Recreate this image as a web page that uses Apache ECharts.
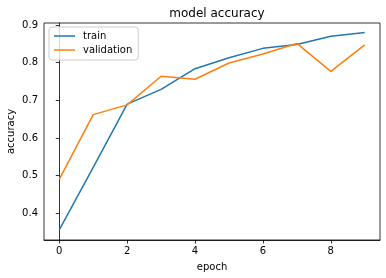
<!DOCTYPE html>
<html><head><meta charset="utf-8">
<script src="https://cdn.jsdelivr.net/npm/echarts@6/dist/echarts.min.js"></script>
<style>html,body{margin:0;padding:0;background:#fff}#c{width:386px;height:278px}</style>
</head><body><div id="c"></div>
<script>
const epochs = [0,1,2,3,4,5,6,7,8,9];
const train = [0.356,0.522,0.690,0.729,0.784,0.813,0.838,0.848,0.870,0.880];
const validation = [0.490,0.662,0.688,0.764,0.756,0.799,0.823,0.851,0.777,0.847];
const xTicks = [0,2,4,6,8];
const yTicks = [0.4,0.5,0.6,0.7,0.8,0.9];
const F = 'DejaVu Sans';
const chart = echarts.init(document.getElementById('c'), null, {renderer:'canvas'});
chart.setOption({
  animation:false,
  title:{text:'model accuracy', left:212, top:3, textAlign:'center',
    textStyle:{fontFamily:F, fontSize:12, fontWeight:'normal', color:'#000'}},
  grid:{left:44, top:23, right:6, bottom:38, show:true, borderColor:'#000', borderWidth:0.8,
    containLabel:false, outerBoundsMode:'none'},
  legend:{orient:'vertical', left:49, top:27, padding:[4,6,5,5], itemGap:4,
    borderColor:'#ccc', borderWidth:1, borderRadius:3, backgroundColor:'rgba(255,255,255,0.8)',
    icon:'rect', itemWidth:21, itemHeight:1.5,
    textStyle:{fontFamily:F, fontSize:10, color:'#000', padding:[0,0,0,3]},
    data:['train','validation']},
  xAxis:{type:'value', min:-0.45, max:9.45, name:'epoch', nameLocation:'middle', nameGap:22,
    nameMoveOverlap:false,
    nameTextStyle:{fontFamily:F, fontSize:10, color:'#000'},
    axisLine:{show:true, lineStyle:{color:'#000', width:0.8}},
    axisTick:{show:true, length:3.5, lineStyle:{color:'#000', width:0.8}, customValues:xTicks},
    axisLabel:{fontFamily:F, fontSize:10, color:'#000', margin:6, customValues:xTicks},
    splitLine:{show:false}},
  yAxis:{type:'value', min:0.3292, max:0.9053, name:'accuracy', nameLocation:'middle', nameGap:28,
    nameMoveOverlap:false,
    nameTextStyle:{fontFamily:F, fontSize:10, color:'#000'},
    axisLine:{show:true, lineStyle:{color:'#000', width:0.8}},
    axisTick:{show:true, length:3.5, lineStyle:{color:'#000', width:0.8}, customValues:yTicks},
    axisLabel:{fontFamily:F, fontSize:10, color:'#000', margin:6, customValues:yTicks,
      formatter:v=>v.toFixed(1)},
    splitLine:{show:false}},
  series:[
    {name:'train', type:'line', symbol:'none', data:epochs.map((e,i)=>[e,train[i]]),
      lineStyle:{color:'#1f77b4', width:1.5}, itemStyle:{color:'#1f77b4'}},
    {name:'validation', type:'line', symbol:'none', data:epochs.map((e,i)=>[e,validation[i]]),
      lineStyle:{color:'#ff7f0e', width:1.5}, itemStyle:{color:'#ff7f0e'}}
  ]
});
</script></body></html>
